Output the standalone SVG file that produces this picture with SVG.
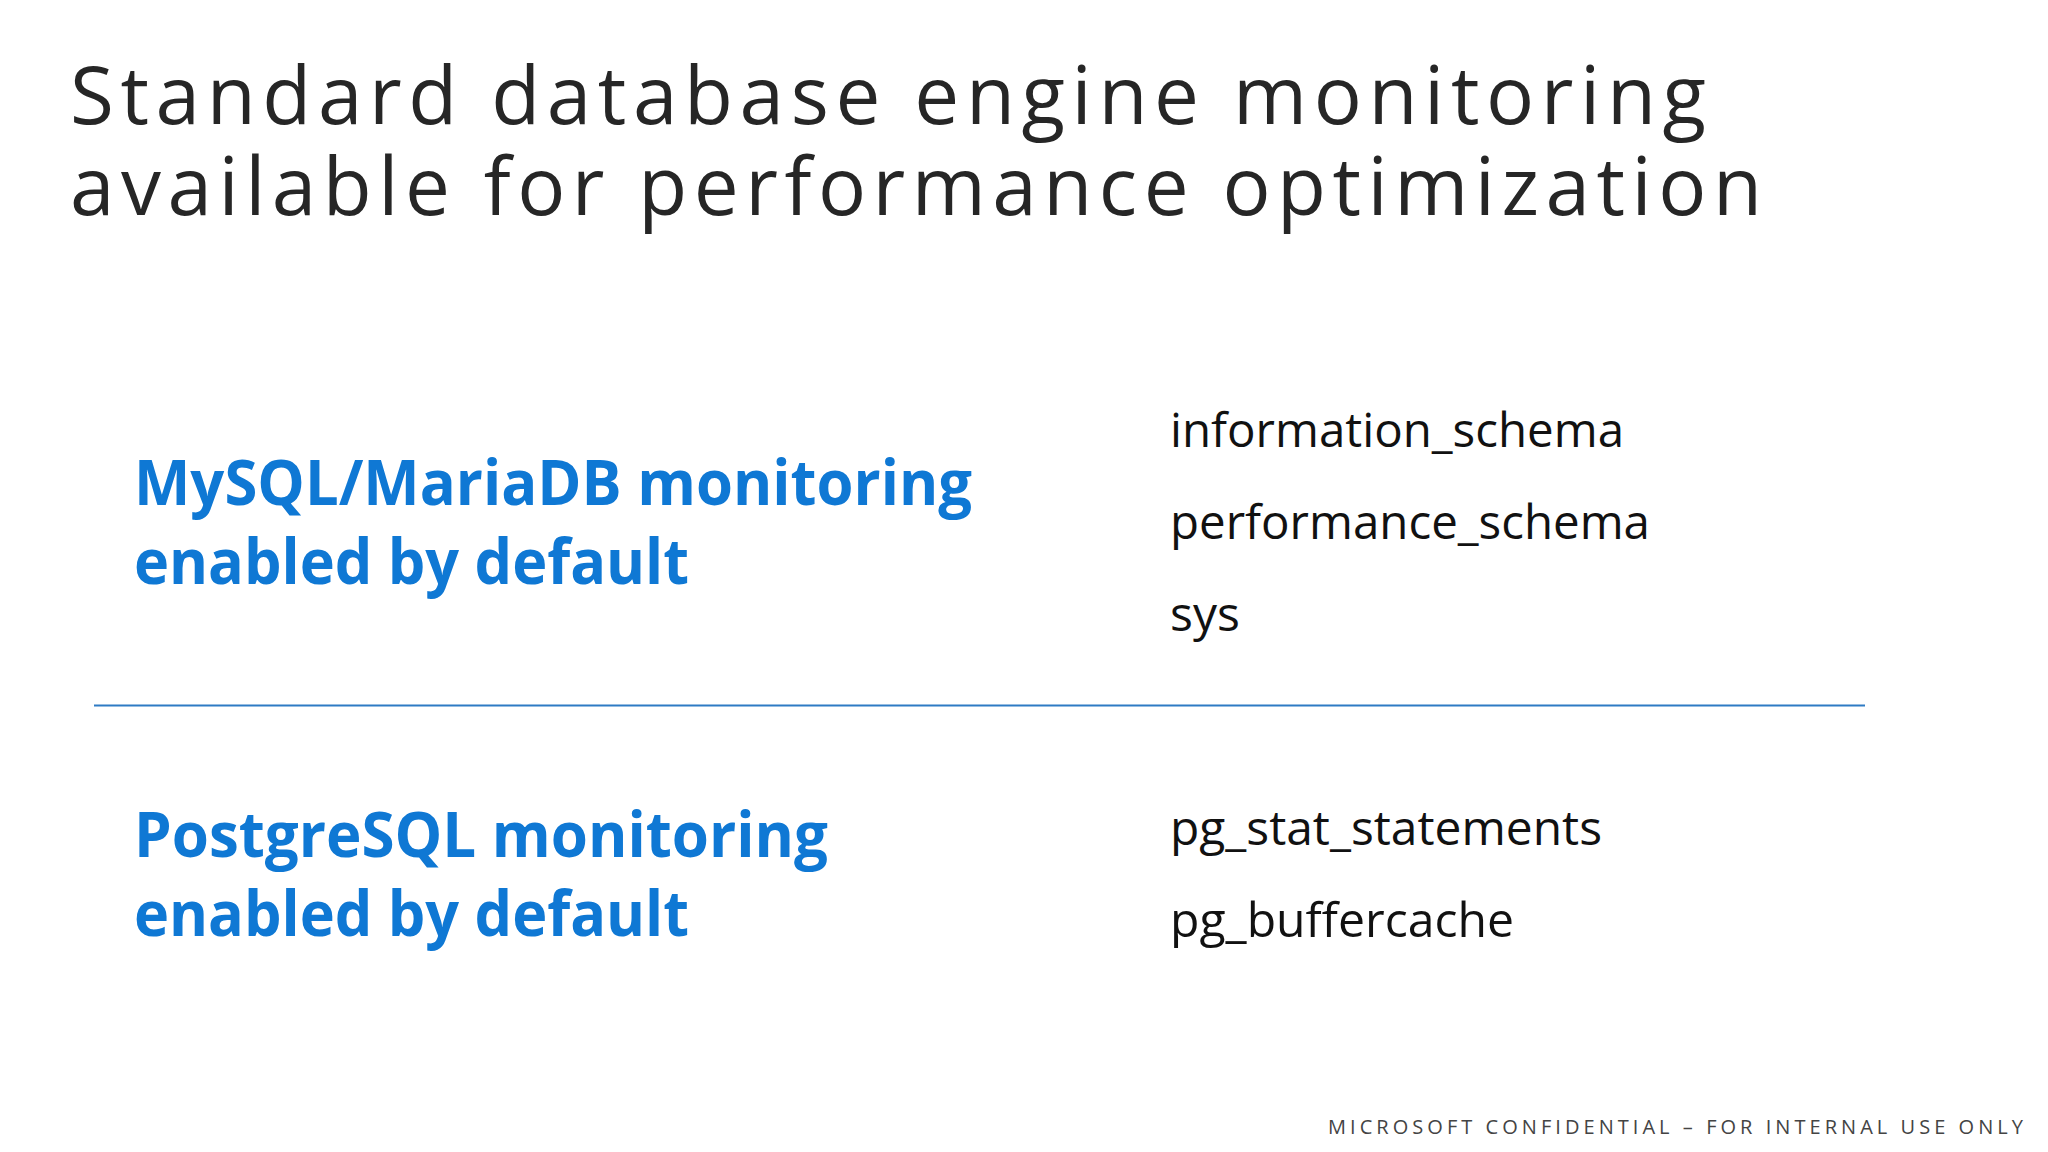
<svg xmlns="http://www.w3.org/2000/svg" width="2048" height="1152" viewBox="0 0 2048 1152">
<style>
.t{font-family:"Open Sans","Noto Sans",sans-serif;fill:#262626;font-size:80px}
.h{font-family:"Open Sans","Noto Sans",sans-serif;font-weight:bold;fill:#0F78D4;font-size:62px}
.i{font-family:"Open Sans","Noto Sans",sans-serif;fill:#111;font-size:48px}
.f{font-family:"Open Sans","Noto Sans",sans-serif;fill:#444;font-size:20px}
</style>
<rect width="2048" height="1152" fill="#fff"/>
<g id="title">
<text class="t" x="70" y="124" textLength="1636" lengthAdjust="spacing">Standard database engine monitoring</text>
<text class="t" x="70" y="215" textLength="1692" lengthAdjust="spacing">available for performance optimization</text>
</g>
<g id="mysql">
<text class="h" x="134" y="505" textLength="838" lengthAdjust="spacingAndGlyphs">MySQL/MariaDB monitoring</text>
<text class="h" x="134" y="584" textLength="555" lengthAdjust="spacingAndGlyphs">enabled by default</text>
</g>
<g id="mysql-items">
<text class="i" x="1170" y="447" textLength="454" lengthAdjust="spacingAndGlyphs">information_schema</text>
<text class="i" x="1170" y="539" textLength="480" lengthAdjust="spacingAndGlyphs">performance_schema</text>
<text class="i" x="1170" y="631">sys</text>
</g>
<g id="connectors"><line x1="94" y1="705.5" x2="1865" y2="705.5" stroke="#2E7BC4" stroke-width="2"/></g>
<g id="postgres">
<text class="h" x="134" y="857" textLength="694" lengthAdjust="spacingAndGlyphs">PostgreSQL monitoring</text>
<text class="h" x="134" y="936" textLength="555" lengthAdjust="spacingAndGlyphs">enabled by default</text>
</g>
<g id="postgres-items">
<text class="i" x="1170" y="845" textLength="432" lengthAdjust="spacingAndGlyphs">pg_stat_statements</text>
<text class="i" x="1170" y="937" textLength="344" lengthAdjust="spacingAndGlyphs">pg_buffercache</text>
</g>
<g id="footer"><text class="f" x="1328" y="1134" textLength="695" lengthAdjust="spacing">MICROSOFT CONFIDENTIAL – FOR INTERNAL USE ONLY</text></g>
</svg>
